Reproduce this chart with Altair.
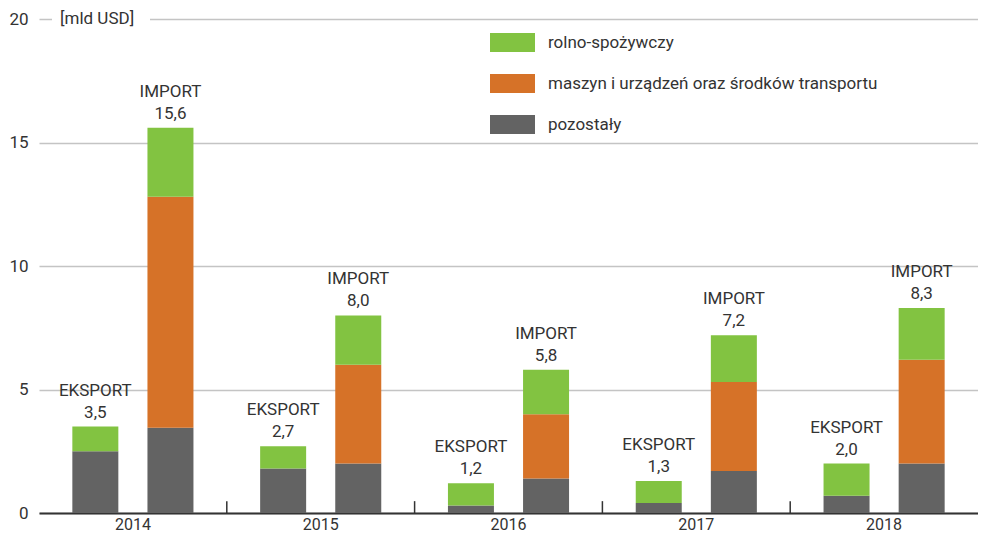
import altair as alt
import pandas as pd

years = ["2014", "2015", "2016", "2017", "2018"]
flows = ["EKSPORT", "IMPORT"]
categories = ["rolno-spożywczy", "maszyn i urządzeń oraz środków transportu", "pozostały"]
colors = ["#82c341", "#d67228", "#636363"]

export_pozostaly = [2.5, 1.8, 0.3, 0.4, 0.7]
export_maszyn = [0.0, 0.0, 0.0, 0.0, 0.0]
export_rolno = [1.0, 0.9, 0.9, 0.9, 1.3]
import_pozostaly = [3.45, 2.0, 1.4, 1.7, 2.0]
import_maszyn = [9.35, 4.0, 2.6, 3.6, 4.2]
import_rolno = [2.8, 2.0, 1.8, 1.9, 2.1]
export_total = [3.5, 2.7, 1.2, 1.3, 2.0]
import_total = [15.6, 8.0, 5.8, 7.2, 8.3]
unit_label = "[mld USD]"

rows = []
series = {
    ("EKSPORT", "pozostały"): export_pozostaly,
    ("EKSPORT", "maszyn i urządzeń oraz środków transportu"): export_maszyn,
    ("EKSPORT", "rolno-spożywczy"): export_rolno,
    ("IMPORT", "pozostały"): import_pozostaly,
    ("IMPORT", "maszyn i urządzeń oraz środków transportu"): import_maszyn,
    ("IMPORT", "rolno-spożywczy"): import_rolno,
}
stack_rank = {"pozostały": 0, "maszyn i urządzeń oraz środków transportu": 1, "rolno-spożywczy": 2}
for (flow, cat), vals in series.items():
    for y, v in zip(years, vals):
        rows.append({"year": y, "flow": flow, "cat": cat, "value": v, "rank": stack_rank[cat]})
df = pd.DataFrame(rows)

trows = []
for flow, tots in (("EKSPORT", export_total), ("IMPORT", import_total)):
    for y, t in zip(years, tots):
        trows.append({"year": y, "flow": flow, "total": t, "label": f"{t:.1f}".replace(".", ",")})
tdf = pd.DataFrame(trows)

FONT = "Roboto"
TXT = "#333333"

x_enc = alt.X("year:N", sort=years, title=None,
              scale=alt.Scale(paddingInner=0, paddingOuter=0),
              axis=alt.Axis(labelAngle=0, ticks=False, domain=True, domainColor="#333333",
                            domainWidth=2, labelFontSize=16, labelPadding=3,
                            labelColor=TXT, labelFont=FONT, grid=False))
xoff = alt.XOffset("flow:N", sort=flows,
                   scale=alt.Scale(paddingInner=0.395, paddingOuter=0.4476))
y_scale = alt.Scale(domain=[0, 20])

bars = alt.Chart(df).mark_bar(size=46).encode(
    x=x_enc,
    xOffset=xoff,
    y=alt.Y("value:Q", stack="zero", scale=y_scale, title=None,
            axis=alt.Axis(values=[0, 5, 10, 15, 20], grid=True, gridColor="#c4c4c4",
                          gridWidth=1.5, domain=False, ticks=False, labelPadding=11,
                          labelFontSize=17, labelColor=TXT, labelFont=FONT)),
    color=alt.Color("cat:N", scale=alt.Scale(domain=categories, range=colors),
                    legend=alt.Legend(title=None, orient="none", legendX=451, legendY=1,
                                      direction="vertical",
                                      symbolType="M-1,-0.42L1,-0.42L1,0.42L-1,0.42Z",
                                      symbolSize=2025, symbolStrokeWidth=0,
                                      symbolOpacity=1, labelFontSize=17, labelFont=FONT,
                                      labelColor=TXT, labelOffset=13, rowPadding=9,
                                      labelLimit=0, padding=0)),
    order=alt.Order("rank:Q"),
)

num_text = alt.Chart(tdf).mark_text(fontSize=17, font=FONT, color=TXT, baseline="middle", dy=-14).encode(
    x=alt.X("year:N", sort=years), xOffset=alt.XOffset("flow:N", sort=flows),
    y=alt.Y("total:Q"), text="label:N")
name_text = alt.Chart(tdf).mark_text(fontSize=17, font=FONT, color=TXT, baseline="middle", dy=-36).encode(
    x=alt.X("year:N", sort=years), xOffset=alt.XOffset("flow:N", sort=flows),
    y=alt.Y("total:Q"), text="flow:N")

seps = alt.Chart(pd.DataFrame({"year": years[1:]})).mark_rule(color="#333333", strokeWidth=1.5).encode(
    x=alt.X("year:N", sort=years, bandPosition=0),
    y=alt.datum(0), y2=alt.datum(0.48))

unit_bg = alt.Chart(pd.DataFrame({"t": [unit_label]})).mark_rect(color="white").encode(
    x=alt.value(13), x2=alt.value(111), y=alt.value(-10), y2=alt.value(10))
unit_txt = alt.Chart(pd.DataFrame({"t": [unit_label]})).mark_text(
    align="left", baseline="middle", fontSize=17, font=FONT, color=TXT).encode(
    x=alt.value(21), y=alt.datum(20), text="t:N")

chart = alt.layer(bars, seps, unit_bg, unit_txt, num_text, name_text).properties(
    width=939, height=494,
    autosize=alt.AutoSizeParams(type="none"),
    padding={"left": 31, "top": 11, "right": 0, "bottom": 20},
).configure_view(stroke=None)

chart.save("out.html", embed_options={"renderer": "svg", "actions": False})
